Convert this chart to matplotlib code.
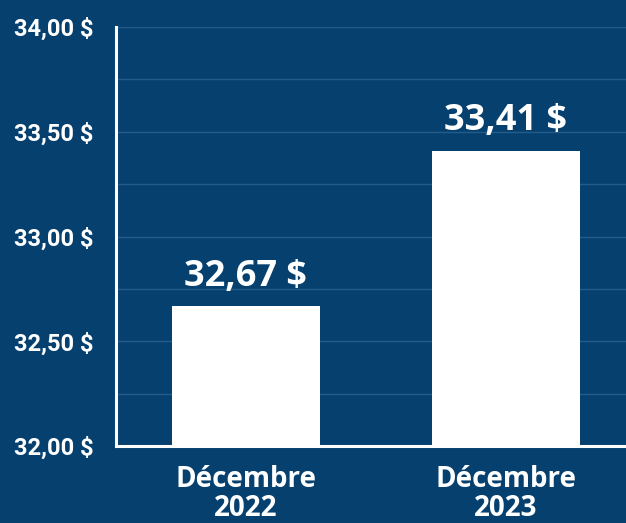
import matplotlib
matplotlib.use("Agg")
import matplotlib.pyplot as plt
from matplotlib.ticker import FixedLocator, FuncFormatter

categories = ["Décembre\n2022", "Décembre\n2023"]
values = [32.67, 33.41]
value_labels = ["32,67 $", "33,41 $"]
major_ticks = [32.0, 32.5, 33.0, 33.5, 34.0]
grid_ticks = [32.25, 32.5, 32.75, 33.0, 33.25, 33.5, 33.75, 34.0]

bg = "#06406e"

fig = plt.figure(figsize=(6.26, 5.23), dpi=100, facecolor=bg)
ax = fig.add_axes([116 / 626, 1 - 446 / 523, 510 / 626, (446 - 27) / 523])
ax.set_facecolor(bg)

x = list(range(len(values)))
ax.bar(x, [v - 32 for v in values], bottom=32, width=0.57, color="white", zorder=3)

ax.set_xlim(-0.5, 1.464)
ax.set_ylim(32, 34)

# faint horizontal grid every 0.25
for g in grid_ticks:
    ax.axhline(g, color="#245b89", lw=1, zorder=1)

ax.yaxis.set_major_locator(FixedLocator(major_ticks))
ax.yaxis.set_major_formatter(FuncFormatter(lambda v, p: f"{v:.2f}".replace(".", ",") + " $"))
ax.tick_params(axis="y", length=0, pad=16, labelcolor="white", labelsize=17)
for t in ax.get_yticklabels():
    t.set_fontfamily("Roboto")
    t.set_fontweight("bold")

ax.set_xticks(x)
ax.set_xticklabels(categories, fontfamily="Open Sans", fontweight="bold",
                   fontsize=20, color="white", linespacing=0.98)
ax.tick_params(axis="x", length=0, pad=14)

for xi, v, lab in zip(x, values, value_labels):
    ax.annotate(lab, (xi, v), xytext=(0, 8), textcoords="offset points",
                ha="center", va="bottom", color="white", fontsize=26,
                fontfamily="Open Sans", fontweight="bold", zorder=4)

for s in ["top", "right"]:
    ax.spines[s].set_visible(False)
for s in ["left", "bottom"]:
    ax.spines[s].set_color("white")
    ax.spines[s].set_linewidth(2.2)
    ax.spines[s].set_zorder(5)

fig.savefig("out.png", dpi=100, facecolor=bg)
